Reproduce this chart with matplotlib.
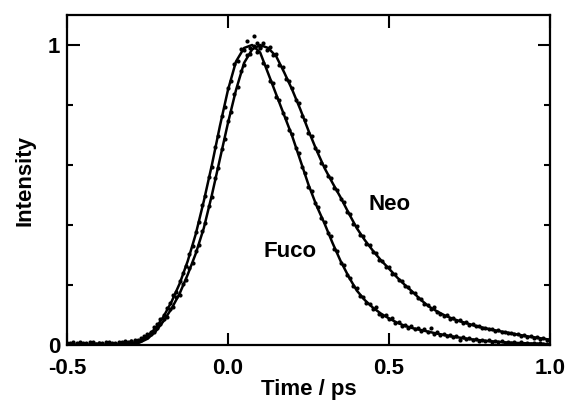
import numpy as np
import matplotlib
matplotlib.use("Agg")
import matplotlib.pyplot as plt
from matplotlib.ticker import MultipleLocator

plt.rcParams['font.family'] = ['Liberation Sans', 'DejaVu Sans']
plt.rcParams['font.weight'] = 'bold'
plt.rcParams['axes.labelweight'] = 'bold'

# fitted curves, sampled every 0.025 ps from -0.5 to 1.0
fit_time = np.linspace(-0.5, 1.0, 61)
fuco_fit = [0, 0, 0, 0, 0, 0, 0.001, 0.002, 0.005, 0.013,
            0.030, 0.056, 0.095, 0.145, 0.205, 0.28, 0.37, 0.48, 0.60, 0.73,
            0.85, 0.945, 0.99, 1.0, 0.975, 0.905, 0.835, 0.765, 0.695, 0.615,
            0.535, 0.465, 0.405, 0.34, 0.28, 0.228, 0.182, 0.150, 0.125, 0.105,
            0.089, 0.075, 0.064, 0.056, 0.050, 0.044, 0.038, 0.033, 0.028, 0.024,
            0.020, 0.017, 0.014, 0.012, 0.010, 0.008, 0.007, 0.006, 0.005, 0.004,
            0.003]
neo_fit = [0, 0, 0, 0, 0, 0, 0, 0.001, 0.003, 0.008,
           0.021, 0.045, 0.080, 0.122, 0.172, 0.235, 0.305, 0.39, 0.50, 0.62,
           0.74, 0.85, 0.94, 0.985, 1.0, 0.99, 0.962, 0.908, 0.85, 0.785,
           0.715, 0.65, 0.59, 0.54, 0.492, 0.44, 0.39, 0.35, 0.315, 0.283,
           0.255, 0.226, 0.200, 0.176, 0.150, 0.128, 0.112, 0.098, 0.087, 0.078,
           0.070, 0.062, 0.056, 0.050, 0.045, 0.040, 0.035, 0.030, 0.026, 0.022,
           0.018]

# measured points, every 0.01 ps
data_time = np.linspace(-0.5, 1.0, 151)
fuco_data = [0.004, 0.008, 0.002, 0.006, 0.009, 0.003, 0.007, 0.005, 0.010, 0.004,
             0.006, 0.008, 0.003, 0.009, 0.005, 0.007, 0.008, 0.010, 0.012, 0.009,
             0.014, 0.018, 0.016, 0.024, 0.030, 0.038, 0.045, 0.060, 0.070, 0.088,
             0.100, 0.122, 0.140, 0.166, 0.178, 0.214, 0.240, 0.262, 0.305, 0.330,
             0.378, 0.410, 0.466, 0.498, 0.560, 0.594, 0.661, 0.698, 0.762, 0.795,
             0.858, 0.880, 0.936, 0.948, 0.985, 0.982, 1.012, 0.990, 1.030, 0.978,
             0.990, 0.940, 0.930, 0.880, 0.872, 0.828, 0.816, 0.772, 0.758, 0.716,
             0.702, 0.656, 0.640, 0.592, 0.574, 0.528, 0.515, 0.472, 0.460, 0.422,
             0.410, 0.372, 0.362, 0.320, 0.312, 0.274, 0.266, 0.232, 0.224, 0.196,
             0.190, 0.164, 0.160, 0.140, 0.138, 0.120, 0.126, 0.104, 0.098, 0.100,
             0.086, 0.090, 0.074, 0.076, 0.064, 0.068, 0.058, 0.062, 0.052, 0.056,
             0.047, 0.052, 0.043, 0.056, 0.038, 0.044, 0.033, 0.037, 0.029, 0.034,
             0.026, 0.030, 0.016, 0.026, 0.019, 0.023, 0.017, 0.020, 0.014, 0.018,
             0.012, 0.016, 0.010, 0.014, 0.009, 0.013, 0.008, 0.011, 0.006, 0.010,
             0.005, 0.009, 0.004, 0.008, 0.004, 0.007, 0.003, 0.006, 0.002, 0.005,
             0.004]
neo_data = [0.007, 0.003, 0.009, 0.005, 0.002, 0.008, 0.004, 0.010, 0.006, 0.003,
            0.008, 0.005, 0.009, 0.004, 0.007, 0.003, 0.009, 0.006, 0.010, 0.008,
            0.012, 0.009, 0.014, 0.016, 0.022, 0.026, 0.036, 0.042, 0.058, 0.070,
            0.086, 0.094, 0.120, 0.128, 0.160, 0.168, 0.204, 0.218, 0.256, 0.272,
            0.312, 0.334, 0.380, 0.406, 0.462, 0.494, 0.556, 0.590, 0.652, 0.686,
            0.748, 0.776, 0.836, 0.860, 0.912, 0.934, 0.966, 0.970, 0.996, 1.005,
            0.994, 1.008, 0.984, 0.992, 0.966, 0.970, 0.932, 0.926, 0.888, 0.880,
            0.856, 0.818, 0.806, 0.764, 0.750, 0.708, 0.696, 0.656, 0.646, 0.606,
            0.598, 0.562, 0.557, 0.522, 0.518, 0.486, 0.478, 0.444, 0.436, 0.404,
            0.396, 0.368, 0.364, 0.337, 0.334, 0.310, 0.306, 0.284, 0.281, 0.261,
            0.259, 0.238, 0.236, 0.216, 0.214, 0.196, 0.194, 0.176, 0.174, 0.156,
            0.154, 0.137, 0.135, 0.121, 0.128, 0.109, 0.104, 0.098, 0.099, 0.088,
            0.090, 0.080, 0.083, 0.073, 0.076, 0.067, 0.070, 0.062, 0.064, 0.056,
            0.058, 0.052, 0.054, 0.047, 0.049, 0.043, 0.045, 0.039, 0.041, 0.036,
            0.037, 0.031, 0.034, 0.028, 0.030, 0.024, 0.027, 0.021, 0.024, 0.018,
            0.020]

x_ticks = [-0.5, 0.0, 0.5, 1.0]
x_tick_labels = ['-0.5', '0.0', '0.5', '1.0']
y_ticks = [0, 1]
y_tick_labels = ['0', '1']

fig = plt.figure(figsize=(5.68, 4.05), dpi=100)
ax = fig.add_axes([0.118, 0.148, 0.850, 0.815])

ax.plot(data_time, fuco_data, 'o', color='black', ms=3, mew=0)
ax.plot(data_time, neo_data, 'o', color='black', ms=3, mew=0)
ax.plot(fit_time, fuco_fit, '-', color='black', lw=1.8)
ax.plot(fit_time, neo_fit, '-', color='black', lw=1.8)

ax.text(0.193, 0.311, 'Fuco', fontsize=16, ha='center', va='center')
ax.text(0.503, 0.47, 'Neo', fontsize=16, ha='center', va='center')

ax.set_xlim(-0.5, 1.0)
ax.set_ylim(0, 1.10)
ax.set_xticks(x_ticks)
ax.set_xticklabels(x_tick_labels)
ax.set_yticks(y_ticks)
ax.set_yticklabels(y_tick_labels)
ax.yaxis.set_minor_locator(MultipleLocator(0.2))
ax.tick_params(which='both', direction='in', top=True, right=True, width=1.5,
               labelsize=16)
ax.tick_params(axis='x', pad=9)
ax.tick_params(axis='y', pad=5)
ax.tick_params(which='major', length=9)
ax.tick_params(which='minor', length=4.5)
for s in ax.spines.values():
    s.set_linewidth(1.6)

ax.set_xlabel('Time / ps', fontsize=16, labelpad=0)
ax.set_ylabel('Intensity', fontsize=16, labelpad=9)

fig.savefig('out.png', dpi=100)
